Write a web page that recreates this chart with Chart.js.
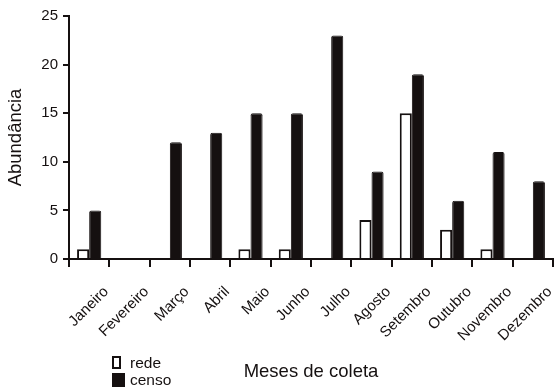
<!DOCTYPE html>
<html>
<head>
<meta charset="utf-8">
<script src="https://cdn.jsdelivr.net/npm/chart.js@4"></script>
<style>
  html, body { margin: 0; padding: 0; background: #fff; }
  #wrap { width: 554px; height: 390px; position: relative; }
</style>
</head>
<body>
<div id="wrap"><canvas id="chart"></canvas></div>
<script>
/* ---------- Data ---------- */
const months = ['Janeiro', 'Fevereiro', 'Março', 'Abril', 'Maio', 'Junho',
                'Julho', 'Agosto', 'Setembro', 'Outubro', 'Novembro', 'Dezembro'];
const rede  = [1, 0, 0, 0, 1, 1, 0, 4, 15, 3, 1, 0];
const censo = [5, 0, 12, 13, 15, 15, 23, 9, 19, 6, 11, 8];
const yTicks = [0, 5, 10, 15, 20, 25];

const FONT = '"Liberation Sans", Arial, Helvetica, sans-serif';
const INK = '#151010';

// legend drawn at bottom-left, next to the x title
const sideLegend = {
    id: 'sideLegend',
    afterDraw(chart) {
        const ctx = chart.ctx;
        const ds = chart.data.datasets;
        ctx.save();
        ctx.font = '15.5px ' + FONT;
        ctx.textBaseline = 'middle';
        // rede: open box
        ctx.fillStyle = ds[0].backgroundColor;
        ctx.fillRect(112, 356, 8, 12);
        ctx.strokeStyle = ds[0].borderColor;
        ctx.lineWidth = 2;
        ctx.strokeRect(113, 357, 7, 11);
        // censo: filled box
        ctx.fillStyle = ds[1].backgroundColor;
        ctx.fillRect(112, 373, 13, 14);
        ctx.fillStyle = INK;
        ctx.fillText(ds[0].label, 130, 364);
        ctx.fillText(ds[1].label, 130, 381);
        ctx.restore();
    }
};

new Chart(document.getElementById('chart'), {
    type: 'bar',
    data: {
        labels: months,
        datasets: [{
            label: 'rede',
            data: rede,
            backgroundColor: '#ffffff',
            borderColor: INK,
            borderWidth: 2,
            borderSkipped: 'bottom',
            categoryPercentage: 0.6,
            barPercentage: 1
        }, {
            label: 'censo',
            data: censo,
            backgroundColor: INK,
            borderColor: INK,
            borderWidth: 1,
            borderRadius: { topLeft: 2, topRight: 2 },
            borderSkipped: 'bottom',
            categoryPercentage: 0.6,
            barPercentage: 1
        }]
    },
    options: {
        responsive: true,
        maintainAspectRatio: false,
        animation: false,
        layout: { padding: { top: 16, right: 1, left: 0, bottom: 0 } },
        plugins: {
            legend: { display: false },
            tooltip: { enabled: false }
        },
        scales: {
            x: {
                offset: true,
                grid: {
                    offset: true,
                    drawOnChartArea: false,
                    drawTicks: true,
                    tickLength: 8,
                    color: INK,
                    lineWidth: 2
                },
                border: { color: INK, width: 2 },
                ticks: {
                    color: INK,
                    font: { family: FONT, size: 15 },
                    autoSkip: false,
                    minRotation: 45,
                    maxRotation: 45,
                    padding: 16,
                    labelOffset: 17
                },
                title: {
                    display: true,
                    text: 'Meses de coleta',
                    color: INK,
                    font: { family: FONT, size: 18.5 },
                    padding: { top: 4, bottom: 7 }
                },
                afterFit(s) {
                    s.height = 131;
                    s.paddingLeft = 0;
                    s.paddingRight = 0;
                }
            },
            y: {
                min: 0,
                max: 25,
                afterBuildTicks(s) { s.ticks = yTicks.map(v => ({ value: v })); },
                grid: {
                    drawOnChartArea: false,
                    drawTicks: true,
                    tickLength: 6,
                    color: INK,
                    lineWidth: 2
                },
                border: { color: INK, width: 2 },
                ticks: {
                    color: INK,
                    font: { family: FONT, size: 15 },
                    padding: 5
                },
                title: {
                    display: true,
                    text: 'Abundância',
                    color: INK,
                    font: { family: FONT, size: 18.5 },
                    padding: { top: 5, bottom: 0 }
                },
                afterFit(s) {
                    s.width = 69;
                    s.paddingTop = 0;
                }
            }
        }
    },
    plugins: [sideLegend]
});
</script>
</body>
</html>
